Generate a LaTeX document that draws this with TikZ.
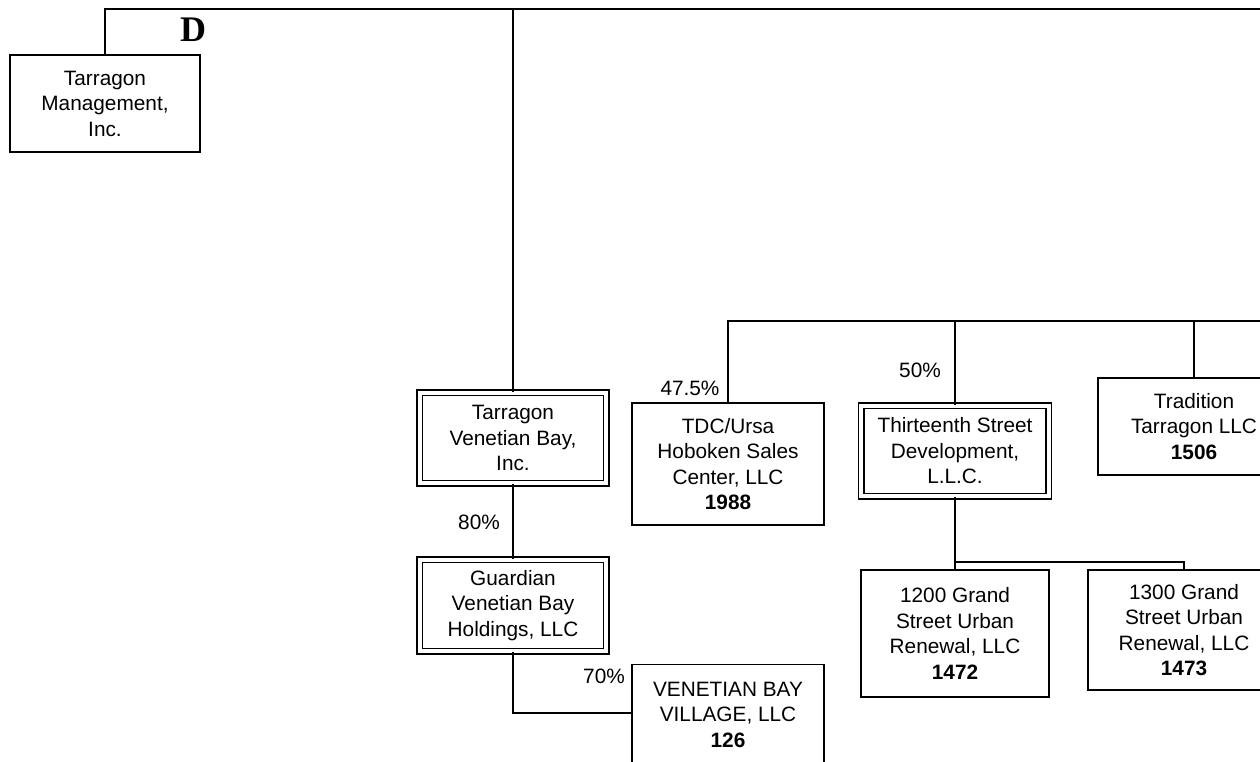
\documentclass[tikz,border=0pt]{standalone}
\usepackage{fontspec}
\setmainfont{Liberation Sans}
\newfontfamily\dfont{Liberation Serif}
\begin{document}
\begin{tikzpicture}[x=1pt,y=-1pt,
  line width=1.4pt,
  every node/.style={font=\fontsize{20.8}{25.5}\selectfont, align=center, inner sep=0pt},
  box/.style={draw, rectangle, line width=1.4pt},
  dbox/.style={draw, rectangle, double, line width=1.2pt, double distance=4.3pt},
  pct/.style={}
]
\useasboundingbox (0,0) rectangle (1260,761);
\clip (0,0) rectangle (1260,761);

\node[box, minimum width=190pt, minimum height=97pt] (mgmt) at (105,103.5) {Tarragon\\Management,\\Inc.};
\node[font=\dfont\bfseries\fontsize{36}{36}\selectfont] (dlab) at (193,30) {D};

\node[dbox, minimum width=186.5pt, minimum height=90.5pt] (tvb) at (513,438) {Tarragon\\Venetian Bay,\\Inc.};
\node[dbox, minimum width=186.5pt, minimum height=91.5pt] (gvb) at (513,605.5) {Guardian\\Venetian Bay\\Holdings, LLC};
\node[box, minimum width=192pt, minimum height=100pt] (vbv) at (728,714.5) {VENETIAN BAY\\VILLAGE, LLC\\\textbf{126}};

\node[box, minimum width=192pt, minimum height=122pt] (tdc) at (728,464) {TDC/Ursa\\Hoboken Sales\\Center, LLC\\\textbf{1988}};
\node[dbox, minimum width=187.5pt, minimum height=90.5pt] (tsd) at (955,451) {Thirteenth Street\\Development,\\L.L.C.};
\node[box, minimum width=192pt, minimum height=97pt] (tt) at (1194,426.5) {Tradition\\Tarragon LLC\\\textbf{1506}};

\node[box, minimum width=188pt, minimum height=127pt] (g1200) at (955,633.5) {1200 Grand\\Street Urban\\Renewal, LLC\\\textbf{1472}};
\node[box, minimum width=192pt, minimum height=120pt] (g1300) at (1184,630) {1300 Grand\\Street Urban\\Renewal, LLC\\\textbf{1473}};

\node[pct] (p475) at (690,388) {47.5\%};
\node[pct] (p80) at (479,522) {80\%};
\node[pct] (p70) at (604,676) {70\%};
\node[pct] (p50) at (920,370) {50\%};

\coordinate (topR) at (1270,9);
\coordinate (midR) at (1270,321);
\coordinate (junc) at (955,562);

\draw (mgmt.north) |- (topR);
\draw (tvb.north) -- (tvb.north |- topR);
\draw (tvb.south) -- (gvb.north);
\draw (gvb.south) |- (vbv.west |- 0,713);
\draw (tdc.north) |- (midR);
\draw (tsd.north) -- (tsd.north |- midR);
\draw (tt.north) -- (tt.north |- midR);

\draw (tsd.south) -- (g1200.north);
\draw (junc) -| (g1300.north);
\end{tikzpicture}
\end{document}
